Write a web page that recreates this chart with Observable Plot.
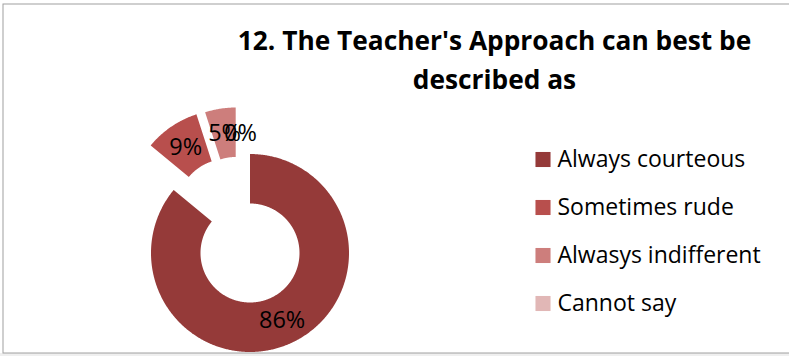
<!DOCTYPE html>
<html>
<head>
<meta charset="utf-8">
<script src="https://cdn.jsdelivr.net/npm/d3@7"></script>
<script src="https://cdn.jsdelivr.net/npm/@observablehq/plot@0.6"></script>
<style>
  html, body { margin: 0; padding: 0; background: #efefef; }
  #chart { width: 789px; height: 356px; }
</style>
</head>
<body>
<div id="chart"></div>
<script>
// ---- data ----
const categories = ["Always courteous", "Sometimes rude", "Alwasys indifferent", "Cannot say"];
const values = [86, 9, 5, 0];
const valueLabels = ["86%", "9%", "5%", "0%"];
const titleLines = ["12. The Teacher's Approach can best be", "described as"];

// ---- styles ----
const colors = ["#953a39", "#b84f4d", "#cd7e7c", "#e1b7b6"];
const W = 789, H = 353;
const cx = 250, cy = 253, R = 99, r = 49.5;
// exploded slice offsets (pixels)
const explode = {
  "Always courteous": [0, 0],
  "Sometimes rude": [-23, -44.5],
  "Alwasys indifferent": [-14.3, -46.5],
  "Cannot say": [-10, -46]
};

const total = d3.sum(values);
const slices = [];
let acc = 0;
categories.forEach((c, i) => {
  const a0 = acc / total * 2 * Math.PI;
  acc += values[i];
  const a1 = acc / total * 2 * Math.PI;
  slices.push({cat: c, value: values[i], label: valueLabels[i], a0, a1, off: explode[c]});
});

const pts = [];
for (const s of slices) {
  if (s.value <= 0) continue;
  const n = Math.max(2, Math.ceil((s.a1 - s.a0) / (Math.PI / 360)));
  for (let k = 0; k <= n; k++) {
    const t = s.a0 + (s.a1 - s.a0) * k / n;
    const ox = cx + s.off[0], oy = cy + s.off[1];
    pts.push({
      cat: s.cat,
      x1: ox + r * Math.sin(t), y1: oy - r * Math.cos(t),
      x2: ox + R * Math.sin(t), y2: oy - R * Math.cos(t)
    });
  }
}

const labelData = slices.map(s => {
  const t = (s.a0 + s.a1) / 2, rm = (R + r) / 2;
  return {cat: s.cat, text: s.label,
    x: cx + s.off[0] + rm * Math.sin(t),
    y: cy + s.off[1] - rm * Math.cos(t)};
});

const legendX = 542.5, legendTextX = 557, legendY0 = 159, legendStep = 48;

const plot = Plot.plot({
  width: W, height: H,
  marginTop: 0, marginRight: 0, marginBottom: 0, marginLeft: 0,
  x: {domain: [0, W], range: [0, W], axis: null},
  y: {domain: [0, H], range: [0, H], axis: null},
  color: {type: "ordinal", domain: categories, range: colors},
  style: {background: "white", fontFamily: "'Open Sans', Lato, sans-serif", overflow: "visible"},
  marks: [
    Plot.frame({stroke: "#a0a0a0", insetLeft: 2.5, insetTop: 3.5, insetRight: -6, insetBottom: 0.5}),
    Plot.area(pts, {x1: "x1", y1: "y1", x2: "x2", y2: "y2", z: "cat", fill: "cat", curve: "linear"}),
    Plot.text(labelData, {x: "x", y: "y", text: "text", fontSize: 23.5, fill: "black"}),
    Plot.dot(categories, {x: () => legendX, y: (d, i) => legendY0 + legendStep * i,
      symbol: "square", r: 8.5, fill: d => d, stroke: null}),
    Plot.text(categories, {x: () => legendTextX, y: (d, i) => legendY0 + legendStep * i,
      text: d => d, textAnchor: "start", fontSize: 23, fill: "black"}),
    Plot.text(titleLines, {x: () => 494, y: (d, i) => 41 + 39 * i, text: d => d,
      fontWeight: "bold", fontSize: 26.3, fill: "black"})
  ]
});
document.getElementById("chart").appendChild(plot);
</script>
</body>
</html>
